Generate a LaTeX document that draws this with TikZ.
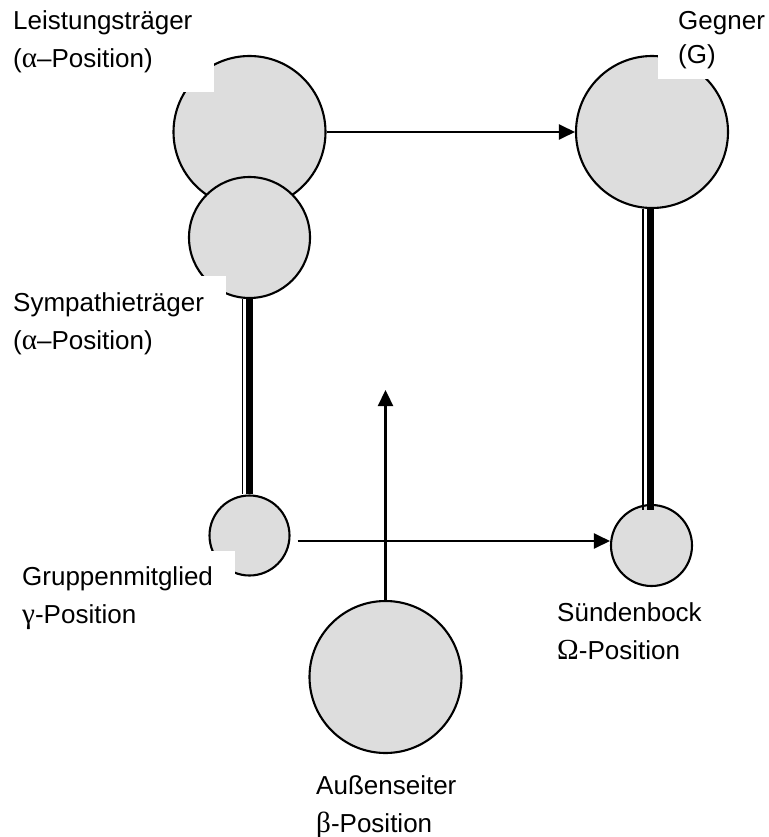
\documentclass[tikz,border=0pt]{standalone}
\usepackage{fontspec}
\setmainfont{Liberation Sans}
\newfontfamily\grk[Scale=1.12]{Liberation Serif}
\usetikzlibrary{arrows.meta}
\definecolor{discgray}{RGB}{221,221,221}
\begin{document}
\begin{tikzpicture}[x=1pt,y=-1pt,
  disc/.style={circle,draw=black,line width=2.1pt,fill=discgray,inner sep=0pt},
  arr/.style={line width=2.3pt,-{Triangle[length=16pt,width=15pt]}},
  rulethin/.style={line width=1.8pt},
  rulethick/.style={line width=7.2pt},
  lab/.style={fill=white,align=left,inner xsep=22pt,font=\fontsize{26}{38}\selectfont},
]
\useasboundingbox (0,0) rectangle (768,837);

% positions in the group
\node[disc,minimum size=152pt] (L)  at (249.5,132)   {};
\node[disc,minimum size=121pt] (S)  at (249.5,237.5) {};
\node[disc,minimum size=152pt] (G)  at (652,132)     {};
\node[disc,minimum size=80pt]  (Gr) at (249.5,535.5) {};
\node[disc,minimum size=81pt]  (Sb) at (651.5,545.5) {};
\node[disc,minimum size=152pt] (A)  at (385.5,677)   {};

% arrows
\draw[arr] (L.east) -- (G.west);
\draw[arr] ([xshift=7pt,yshift=-5.5pt]Gr.east) -- ([yshift=4.5pt]Sb.west);
\coordinate (Atip) at (385.5,390);
\draw[arr] (A.north) -- (Atip);

% double bonds: thin and thick rule side by side
\draw[rulethin]  ([xshift=-7pt]S.south)   -- ([xshift=-7pt]Gr.north);
\draw[rulethick] ([xshift=0.2pt]S.south)  -- ([xshift=0.2pt]Gr.north);
\draw[rulethin]  ([xshift=-8.7pt]G.south) -- ([xshift=-8.2pt,yshift=-6pt]Sb.north);
\draw[rulethick] ([xshift=-1.8pt]G.south) -- ([xshift=-1.3pt,yshift=-6pt]Sb.north);

% labels
\node[lab,anchor=south west,inner ysep=18.5pt] (tL) at (-9,92)
  {Leistungsträger\\({\grk α}–Position)};
\node[lab,anchor=south west,inner xsep=20pt,inner ysep=9.5pt,
      font=\fontsize{26}{34}\selectfont] (tG) at (658,79)
  {Gegner\\(G)};
\node[lab,anchor=north west,inner ysep=16.4pt] (tS) at (-9,276)
  {Sympathieträger\\({\grk α}–Position)};
\node[lab,anchor=north west,inner ysep=15.8pt] (tGr) at (0,551)
  {Gruppenmitglied\\{\grk γ}-Position};
\node[lab,anchor=north west,inner ysep=10pt] (tSb) at (535,592.4)
  {Sündenbock\\{\grk Ω}-Position};
\node[lab,anchor=north west,inner ysep=10pt] (tA) at (294,765)
  {Außenseiter\\{\grk β}-Position};
\end{tikzpicture}
\end{document}
